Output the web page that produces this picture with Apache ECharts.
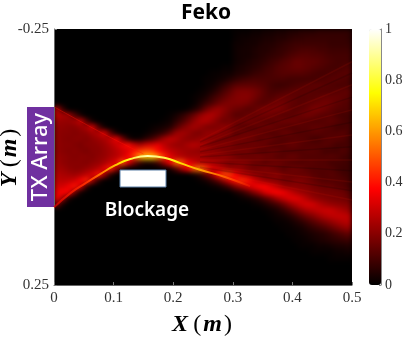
<!DOCTYPE html>
<html>
<head>
<meta charset="utf-8">
<style>
html, body { margin: 0; padding: 0; background: #fff; }
#heatWrap { position: absolute; left: 54px; top: 29px; width: 298px; height: 256px; overflow: hidden; background: #000; }
#heat { width: 298px; height: 256px; filter: blur(2.4px); }
#main { position: absolute; left: 0; top: 0; width: 407px; height: 337px; }
</style>
<script src="https://cdn.jsdelivr.net/npm/echarts@6/dist/echarts.min.js"></script>
</head>
<body>
<div id="heatWrap"><div id="heat"></div></div>
<div id="main"></div>
<script>
// field strength, percent of max, top row first
var fieldRows = [
[0,0,0,0,0,0,0,0,0,0, 0,0,0,0,0,0,0,0,0,0, 0,0,0,0,0,0,0,0,0,0, 1,1,1,2,2,3,3,4,4,5, 5,6,6,6,7,7,7,7,7,7],
[0,0,0,0,0,0,0,0,0,0, 0,0,0,0,0,0,0,0,0,0, 0,0,0,0,0,0,0,0,0,0, 1,2,2,3,3,4,4,5,5,6, 7,7,8,8,8,8,8,8,8,7],
[0,0,0,0,0,0,0,0,0,0, 0,0,0,0,0,0,0,0,0,0, 0,0,0,0,0,0,0,0,0,0, 2,2,3,3,4,5,5,6,7,8, 9,9,9,9,9,9,8,8,8,8],
[0,0,0,0,0,0,0,0,0,0, 0,0,0,0,0,0,0,0,0,0, 0,0,0,0,0,0,0,0,0,0, 2,3,3,4,5,5,6,7,8,9, 10,11,11,11,10,10,9,9,9,9],
[0,0,0,0,0,0,0,0,0,0, 0,0,0,0,0,0,0,0,0,0, 0,0,0,0,0,0,0,0,0,0, 2,3,3,4,5,6,7,8,9,11, 12,13,13,12,12,11,10,10,10,10],
[0,0,0,0,0,0,0,0,0,0, 0,0,0,0,0,0,0,0,0,0, 0,0,0,0,0,0,0,0,0,0, 2,3,4,5,6,7,9,10,12,13, 15,15,14,14,13,12,11,10,10,10],
[0,0,0,0,0,0,0,0,0,0, 0,0,0,0,0,0,0,0,0,0, 0,0,0,0,0,0,0,0,1,1, 3,4,5,6,7,9,10,12,13,14, 15,15,14,13,12,11,10,10,11,12],
[0,0,0,0,0,0,0,0,0,0, 0,0,0,0,0,0,0,0,0,0, 0,0,0,0,0,0,1,1,2,2, 4,5,6,8,9,10,11,12,13,13, 13,13,12,11,10,10,11,12,13,13],
[0,0,0,0,0,0,0,0,0,0, 0,0,0,0,0,0,0,0,0,0, 0,0,0,0,0,1,1,2,3,5, 7,9,10,11,11,11,11,11,11,10, 10,10,10,10,11,12,13,13,12,11],
[0,0,0,0,0,0,0,0,0,0, 0,0,0,0,0,0,0,0,0,0, 0,0,0,0,0,1,2,4,7,10, 13,14,14,14,13,12,10,9,9,10, 11,12,13,14,14,13,12,11,11,11],
[0,0,0,0,0,0,0,0,0,0, 0,0,0,0,0,0,0,0,0,0, 0,0,0,0,1,2,4,7,11,14, 18,19,19,18,16,13,11,11,12,13, 14,14,14,13,12,12,12,13,14,14],
[0,0,0,0,0,0,0,0,0,0, 0,0,0,0,0,0,0,0,0,0, 0,0,0,1,2,4,8,11,14,17, 19,20,20,18,15,13,12,14,15,15, 14,13,13,13,14,15,15,15,14,13],
[0,0,0,0,0,0,0,0,0,0, 0,0,0,0,0,0,0,0,0,0, 0,0,0,1,4,8,11,15,18,19, 19,19,18,15,13,13,15,17,17,15, 14,13,14,15,16,17,16,14,13,12],
[28,8,0,0,0,0,0,0,0,0, 0,0,0,0,0,0,0,0,0,0, 0,0,1,4,8,15,20,23,21,18, 16,15,13,14,16,18,19,19,17,15, 13,14,15,18,18,16,14,13,12,12],
[27,25,23,12,3,0,0,0,0,0, 0,0,0,0,0,0,0,0,0,1, 3,6,10,15,21,25,26,23,19,16, 13,13,15,16,17,17,16,14,13,13, 14,16,17,16,14,13,13,11,10,10],
[23,22,22,24,29,12,2,0,0,0, 0,0,0,0,0,0,0,0,1,2, 6,10,15,21,25,26,23,19,16,17, 16,17,17,16,14,13,13,15,16,16, 16,14,13,12,12,13,14,13,11,10],
[21,21,20,20,22,25,31,12,2,0, 0,0,0,0,0,0,1,2,3,5, 11,17,21,24,22,19,18,19,21,19, 16,13,12,13,15,16,16,14,13,12, 12,13,13,14,14,13,12,10,10,11],
[21,20,20,19,20,21,24,27,32,14, 3,0,0,0,0,1,3,5,8,14, 22,24,22,19,18,21,22,22,19,17, 13,15,16,16,15,13,12,13,15,15, 13,12,12,13,13,12,12,12,13,11],
[21,20,19,20,20,19,21,23,25,29, 35,18,5,1,2,6,10,16,24,28, 26,22,20,20,22,22,20,17,16,16, 17,17,16,15,13,15,15,13,12,12, 13,13,12,10,10,12,13,13,12,10],
[21,20,20,19,18,20,20,21,23,26, 30,35,39,30,25,30,32,34,28,24, 22,22,25,27,25,21,18,18,19,19, 16,15,15,16,16,15,12,12,13,15, 15,13,12,12,12,13,12,10,10,10],
[21,20,19,20,19,18,20,20,22,24, 27,30,33,40,45,48,46,38,32,28, 26,24,23,22,21,21,21,20,17,16, 16,17,17,15,13,13,15,15,13,12, 12,12,13,13,12,10,10,10,12,10],
[22,21,20,19,20,20,19,21,22,25, 27,31,37,48,62,68,68,58,44,34, 28,26,24,24,24,22,20,20,21,20, 17,15,15,16,17,16,15,13,13,15, 15,13,12,12,12,12,13,12,10,9],
[23,21,20,20,20,19,21,22,25,29, 35,50,34,18,8,4,5,10,22,36, 52,50,36,30,26,25,25,23,20,18, 19,20,19,16,15,13,15,16,15,13, 12,12,13,13,12,12,10,10,10,9],
[24,23,21,20,20,22,24,27,34,42, 24,6,0,0,0,0,0,0,1,3, 12,25,36,50,55,46,32,28,25,21, 21,20,17,16,17,19,17,15,13,15, 16,15,13,12,12,12,12,10,9,9],
[26,25,24,23,25,28,32,40,24,6, 0,0,0,0,0,0,0,0,0,0, 0,0,0,2,6,14,22,38,48,46, 36,28,25,21,19,17,19,20,17,16, 15,15,15,13,12,12,13,12,10,9],
[28,27,28,30,36,42,24,6,0,0, 0,0,0,0,0,0,0,0,0,0, 0,0,0,0,1,3,7,13,22,32, 40,44,40,32,26,22,20,19,17,17, 19,19,17,15,13,12,12,12,12,10],
[31,31,35,40,30,7,0,0,0,0, 0,0,0,0,0,0,0,0,0,0, 0,0,0,0,0,0,1,2,5,10, 18,24,30,34,38,38,33,28,22,20, 20,19,19,17,16,15,15,13,12,10],
[34,38,36,16,2,0,0,0,0,0, 0,0,0,0,0,0,0,0,0,0, 0,0,0,0,0,0,0,0,0,0, 3,6,11,18,24,32,36,38,36,31, 26,23,21,19,18,17,17,17,16,13],
[36,24,4,0,0,0,0,0,0,0, 0,0,0,0,0,0,0,0,0,0, 0,0,0,0,0,0,0,0,0,0, 0,1,2,4,7,12,17,24,29,33, 34,31,26,22,20,19,18,17,17,15],
[18,3,0,0,0,0,0,0,0,0, 0,0,0,0,0,0,0,0,0,0, 0,0,0,0,0,0,0,0,0,0, 0,0,0,1,2,4,7,10,15,21, 26,30,32,31,27,24,22,21,20,19],
[0,0,0,0,0,0,0,0,0,0, 0,0,0,0,0,0,0,0,0,0, 0,0,0,0,0,0,0,0,0,0, 0,0,0,0,0,1,2,4,7,11, 16,21,25,27,29,30,30,27,25,22],
[0,0,0,0,0,0,0,0,0,0, 0,0,0,0,0,0,0,0,0,0, 0,0,0,0,0,0,0,0,0,0, 0,0,0,0,0,0,1,2,3,5, 8,12,16,19,23,26,28,29,29,28],
[0,0,0,0,0,0,0,0,0,0, 0,0,0,0,0,0,0,0,0,0, 0,0,0,0,0,0,0,0,0,0, 0,0,0,0,0,0,0,1,1,2, 4,6,9,12,15,18,21,24,26,27],
[0,0,0,0,0,0,0,0,0,0, 0,0,0,0,0,0,0,0,0,0, 0,0,0,0,0,0,0,0,0,0, 0,0,0,0,0,0,0,0,1,1, 2,3,5,7,9,11,14,17,20,22],
[0,0,0,0,0,0,0,0,0,0, 0,0,0,0,0,0,0,0,0,0, 0,0,0,0,0,0,0,0,0,0, 0,0,0,0,0,0,0,0,0,1, 1,2,3,4,5,6,8,10,12,14],
[0,0,0,0,0,0,0,0,0,0, 0,0,0,0,0,0,0,0,0,0, 0,0,0,0,0,0,0,0,0,0, 0,0,0,0,0,0,0,0,0,0, 1,1,2,3,4,5,6,7,8,9],
[0,0,0,0,0,0,0,0,0,0, 0,0,0,0,0,0,0,0,0,0, 0,0,0,0,0,0,0,0,0,0, 0,0,0,0,0,0,0,0,0,0, 0,1,1,1,2,2,3,4,4,5],
[0,0,0,0,0,0,0,0,0,0, 0,0,0,0,0,0,0,0,0,0, 0,0,0,0,0,0,0,0,0,0, 0,0,0,0,0,0,0,0,0,0, 0,0,0,1,1,1,1,2,2,3],
[0,0,0,0,0,0,0,0,0,0, 0,0,0,0,0,0,0,0,0,0, 0,0,0,0,0,0,0,0,0,0, 0,0,0,0,0,0,0,0,0,0, 0,0,0,0,0,0,1,1,1,1]
];

// bright ridge around the blockage, metres
var ridgeX = [0, 0.028, 0.053, 0.078, 0.103, 0.128, 0.157, 0.187, 0.212, 0.245, 0.287, 0.329];
var ridgeY = [0.098, 0.070, 0.051, 0.033, 0.016, 0.004, -0.002, 0.002, 0.012, 0.025, 0.039, 0.057];
// upper edge of the converging beam
var edgeX = [0, 0.05, 0.10, 0.15];
var edgeY = [-0.098, -0.066, -0.035, -0.006];
// fringes fanning out past the focus, from X=0.245 to X=0.5
var fringeX = [0.245, 0.5];
var lightStartY = [-0.033, -0.023, -0.014, -0.004, 0.006, 0.016, 0.025];
var lightEndY = [-0.186, -0.141, -0.092, -0.043, 0.006, 0.049, 0.084];
var darkStartY = [-0.029, -0.020, -0.010, 0, 0.010, 0.020];
var darkEndY = [-0.164, -0.117, -0.068, -0.020, 0.027, 0.066];

var yTicks = [-0.25, 0.25];
var hotColors = ['#000000', '#550000', '#aa0000', '#ff0000', '#ff5500', '#ffaa00', '#ffff00', '#ffff80', '#ffffff'];

var cells = [];
fieldRows.forEach(function (row, r) {
    row.forEach(function (v, c) {
        cells.push([c, r, v / 100]);
    });
});
var colNames = fieldRows[0].map(function (v, c) { return c; });
var rowNames = [];
for (var i = 0; i < 43; i++) rowNames.push(i);

var heatChart = echarts.init(document.getElementById('heat'));
heatChart.setOption({
    animation: false,
    grid: { left: 0, right: 0, top: 0, bottom: 0, outerBoundsMode: 'none' },
    xAxis: { type: 'category', data: colNames, show: false },
    yAxis: { type: 'category', data: rowNames, inverse: true, show: false },
    visualMap: { show: false, min: 0, max: 1, inRange: { color: hotColors } },
    series: [{ type: 'heatmap', data: cells, silent: true }]
});

function pairs(xs, ys) {
    return xs.map(function (x, i) { return [x, ys[i]]; });
}

function fringeSeries(startY, endY, color) {
    return startY.map(function (y, i) {
        return {
            type: 'line', silent: true, symbol: 'none',
            data: pairs(fringeX, [y, endY[i]]),
            lineStyle: { color: color, width: 1.5 }
        };
    });
}

var serif = '"Liberation Serif", serif';
var nameRich = {
    i: { fontFamily: serif, fontStyle: 'italic', fontWeight: 'bold', fontSize: 24, color: '#000' },
    p: { fontFamily: serif, fontSize: 24, color: '#000', padding: [0, 2, 0, 2] }
};

var myChart = echarts.init(document.getElementById('main'));
myChart.setOption({
    animation: false,
    title: {
        text: 'Feko', left: 201, top: -2, textAlign: 'center',
        textStyle: { fontFamily: '"Noto Sans"', fontWeight: 'bold', fontSize: 21, color: '#000' }
    },
    grid: [
        { left: 54, top: 29, width: 298, height: 256, outerBoundsMode: 'none' },
        { left: 369, top: 29, width: 12, height: 256, outerBoundsMode: 'none' }
    ],
    xAxis: [{
        type: 'value', min: 0, max: 0.5, interval: 0.1,
        axisLine: { onZero: false, lineStyle: { color: '#666' } },
        axisTick: { inside: true, length: 3, lineStyle: { color: '#777' } },
        axisLabel: { fontFamily: serif, fontSize: 15, color: '#333', margin: 6, hideOverlap: false },
        splitLine: { show: false },
        name: '{i|X} {p|(}{i|m}{p|)}', nameLocation: 'middle', nameGap: 28,
        nameTextStyle: { rich: nameRich }
    }, {
        gridIndex: 1, type: 'value', show: false, min: 0, max: 1
    }],
    yAxis: [{
        type: 'value', min: -0.25, max: 0.25, inverse: true,
        axisLine: { show: true, onZero: false, lineStyle: { color: '#666' } },
        axisTick: { show: true, inside: true, length: 3, customValues: yTicks, lineStyle: { color: '#777' } },
        axisLabel: {
            fontFamily: serif, fontSize: 15, color: '#333', margin: 5,
            customValues: yTicks, hideOverlap: false,
            formatter: function (v) { return String(v); }
        },
        splitLine: { show: false },
        name: '{i|Y} {p|(}{i|m}{p|)}', nameLocation: 'middle', nameGap: 32, nameMoveOverlap: false,
        nameTextStyle: { rich: nameRich }
    }, {
        gridIndex: 1, type: 'value', min: 0, max: 1, interval: 0.2, position: 'right',
        axisLine: { show: true, onZero: false, lineStyle: { color: '#888' } },
        axisTick: { show: true, inside: true, length: 2, lineStyle: { color: '#888' } },
        axisLabel: { fontFamily: serif, fontSize: 14, color: '#333', margin: 4 },
        splitLine: { show: false }
    }],
    visualMap: {
        type: 'continuous', seriesIndex: [], min: 0, max: 1, left: 369, top: 29, padding: 0,
        itemWidth: 12, itemHeight: 256, calculable: false, realtime: false,
        inRange: { color: hotColors }
    },
    series: fringeSeries(lightStartY, lightEndY, 'rgba(255,30,0,0.09)')
    .concat(fringeSeries(darkStartY, darkEndY, 'rgba(0,0,0,0.14)'))
    .concat([{
        type: 'line', silent: true, data: pairs(edgeX, edgeY), smooth: true, symbol: 'none',
        lineStyle: { color: 'rgba(255,20,0,0.4)', width: 1 }
    }, {
        type: 'line', silent: true, data: pairs(ridgeX, ridgeY), smooth: true, symbol: 'none',
        lineStyle: {
            width: 2,
            color: new echarts.graphic.LinearGradient(0, 0, 1, 0, [
                { offset: 0, color: 'rgba(220,0,0,0.7)' },
                { offset: 0.18, color: '#ff3000' },
                { offset: 0.3, color: '#ffb000' },
                { offset: 0.36, color: '#ffee00' },
                { offset: 0.48, color: '#ffffb0' },
                { offset: 0.62, color: '#ffee00' },
                { offset: 0.72, color: '#ffb000' },
                { offset: 0.88, color: '#ff5000' },
                { offset: 1, color: 'rgba(255,30,0,0.3)' }
            ])
        }
    }]),
    graphic: [
        { type: 'rect', shape: { x: 27, y: 107, width: 27, height: 100 }, style: { fill: '#7030a0' } },
        {
            type: 'text', x: 41, y: 157, rotation: Math.PI / 2,
            style: { text: 'TX Array', fill: '#fff', font: '500 22px "Noto Sans"', align: 'center', verticalAlign: 'middle' }
        },
        {
            type: 'rect', shape: { x: 120, y: 170, width: 46, height: 17 },
            style: { fill: '#fff', stroke: '#5b7fa6', lineWidth: 1 }
        },
        {
            type: 'text', x: 147, y: 211,
            style: { text: 'Blockage', fill: '#fff', font: '600 19px "Noto Sans"', align: 'center', verticalAlign: 'middle' }
        }
    ]
});
</script>
</body>
</html>
